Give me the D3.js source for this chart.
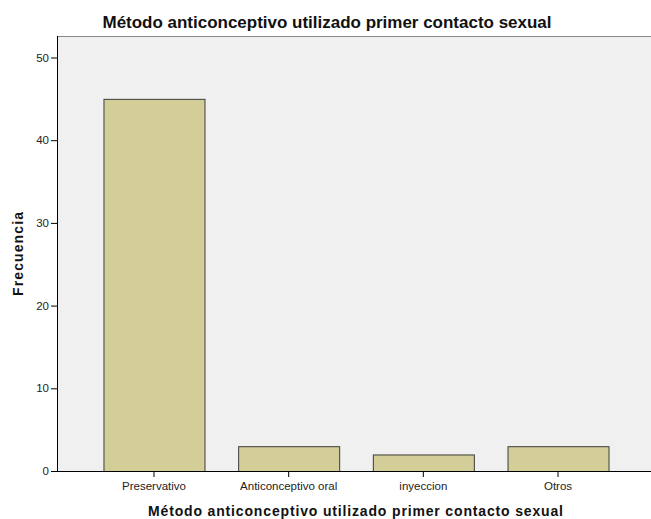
<!DOCTYPE html>
<html>
<head>
<meta charset="utf-8">
<script src="https://cdn.jsdelivr.net/npm/d3@7"></script>
<style>
  body { margin: 0; background: #fff; }
  svg { display: block; font-family: "Liberation Sans", Arial, sans-serif; }
</style>
</head>
<body>
<div id="chart"></div>
<script>
const width = 651;
const height = 519;
const margin = { top: 36, right: -4, bottom: 48, left: 57 };

const categories = ["Preservativo", "Anticonceptivo oral", "inyeccion", "Otros"];
const frequencies = [45, 3, 2, 3];
const yTicks = [0, 10, 20, 30, 40, 50];

const chartTitle = "Método anticonceptivo utilizado primer contacto sexual";
const xTitle = "Método anticonceptivo utilizado primer contacto sexual";
const yTitle = "Frecuencia";

const svg = d3.select("#chart")
    .append("svg")
    .attr("width", width)
    .attr("height", height);

const plotW = width - margin.left - margin.right;
const plotH = height - margin.top - margin.bottom;

const g = svg.append("g")
    .attr("transform", `translate(${margin.left}, ${margin.top})`);

const xScale = d3.scaleBand()
    .domain(categories)
    .range([0, plotW])
    .paddingInner(0.25)
    .paddingOuter(0.345);

const yScale = d3.scaleLinear()
    .domain([0, 52.6])
    .range([plotH, 0]);

// plot background
g.append("rect")
    .attr("width", plotW)
    .attr("height", plotH)
    .attr("fill", "#f0f0f0");

g.append("line")
    .attr("x1", 0).attr("x2", plotW)
    .attr("y1", 0.5).attr("y2", 0.5)
    .attr("stroke", "#888")
    .attr("stroke-width", 1);

g.selectAll(".bar")
    .data(frequencies)
    .enter()
    .append("rect")
    .attr("class", "bar")
    .attr("x", (d, i) => xScale(categories[i]) + 0.5)
    .attr("y", d => yScale(d) + 0.5)
    .attr("width", xScale.bandwidth())
    .attr("height", d => plotH - yScale(d))
    .attr("fill", "#d3ce97")
    .attr("stroke", "#3c3c3c")
    .attr("stroke-width", 1);

const yAxis = d3.axisLeft(yScale)
    .tickValues(yTicks)
    .tickSize(6)
    .tickPadding(2);

g.append("g")
    .attr("class", "y axis")
    .call(yAxis)
    .call(a => a.select(".domain").attr("d", `M0.5,${plotH}V0`))
    .call(a => a.selectAll("text").attr("font-size", 11.5).attr("fill", "#222"))
    .call(a => a.selectAll("line").attr("stroke", "#000"));

const xAxis = d3.axisBottom(xScale)
    .tickSize(6)
    .tickPadding(5)
    .tickSizeOuter(0);

g.append("g")
    .attr("class", "x axis")
    .attr("transform", `translate(0, ${plotH})`)
    .call(xAxis)
    .call(a => a.select(".domain").attr("d", `M0,0.5H${plotW}`))
    .call(a => a.selectAll("text").attr("font-size", 11.5).attr("fill", "#222"))
    .call(a => a.selectAll("line").attr("stroke", "#000"));

svg.append("text")
    .attr("x", 327)
    .attr("y", 28)
    .attr("text-anchor", "middle")
    .attr("font-size", 16.5)
    .attr("font-weight", "bold")
    .attr("fill", "#111")
    .attr("textLength", 449)
    .attr("lengthAdjust", "spacingAndGlyphs")
    .text(chartTitle);

svg.append("text")
    .attr("x", 355.5)
    .attr("y", 516)
    .attr("text-anchor", "middle")
    .attr("font-size", 14)
    .attr("font-weight", "bold")
    .attr("fill", "#111")
    .attr("textLength", 415)
    .attr("lengthAdjust", "spacing")
    .text(xTitle);

svg.append("text")
    .attr("transform", `translate(23, 254) rotate(-90)`)
    .attr("text-anchor", "middle")
    .attr("font-size", 14)
    .attr("font-weight", "bold")
    .attr("fill", "#111")
    .attr("textLength", 84)
    .attr("lengthAdjust", "spacing")
    .text(yTitle);
</script>
</body>
</html>
